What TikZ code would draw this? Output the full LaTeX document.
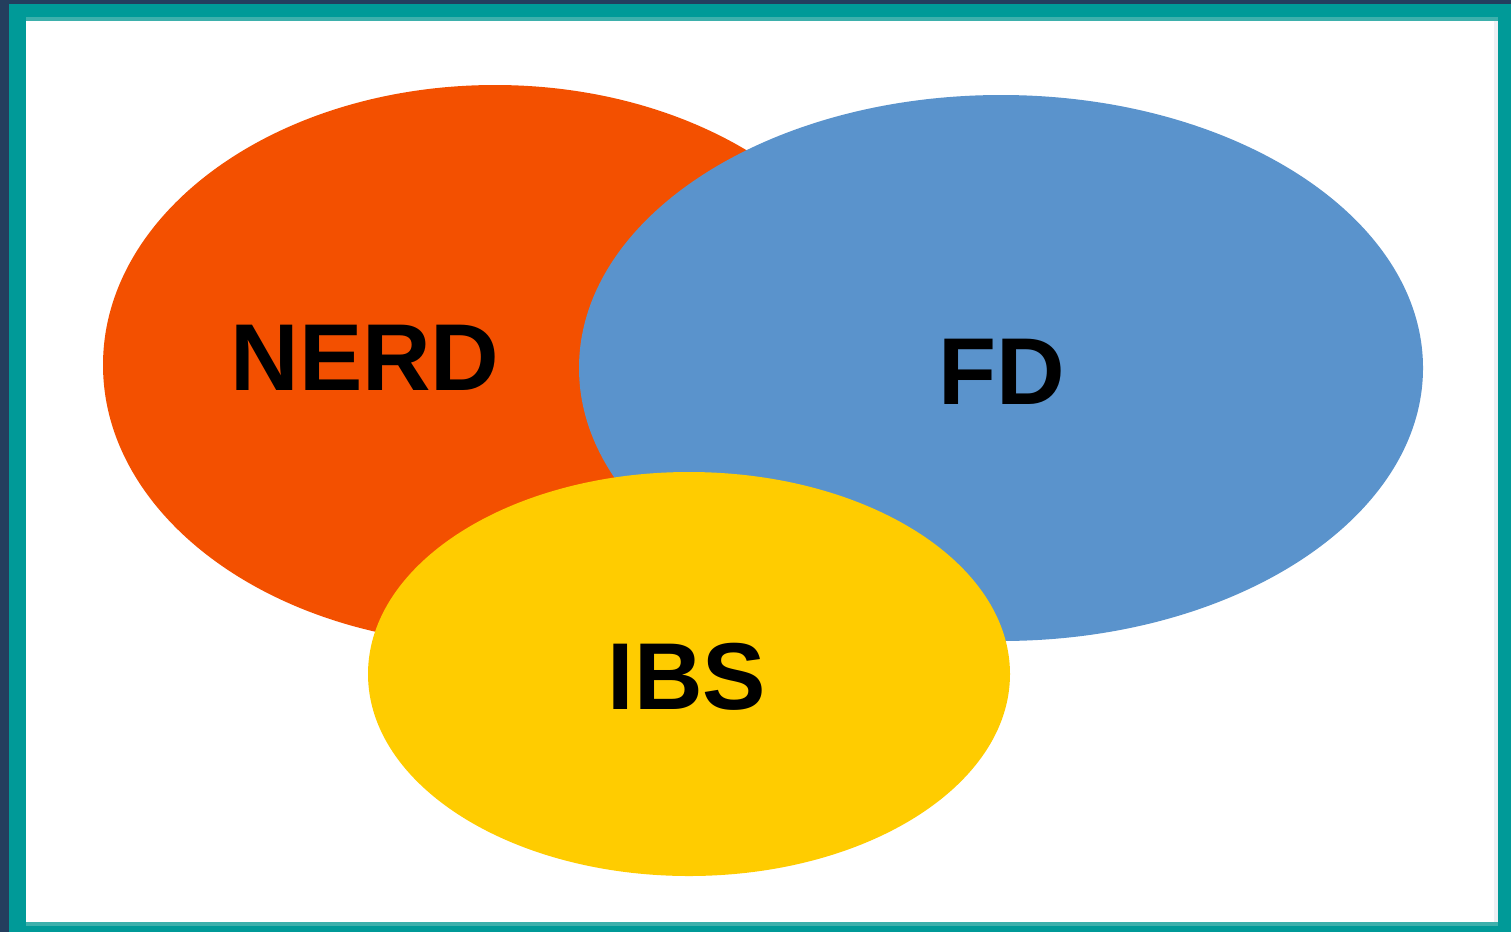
\documentclass[tikz,border=0pt]{standalone}
\usepackage{fontspec}
\setmainfont{Liberation Sans}
\definecolor{navy}{HTML}{243E5E}
\definecolor{tealf}{HTML}{009A98}
\definecolor{tealL}{HTML}{3DB0AC}
\definecolor{edgegray}{HTML}{EEF0F4}
\definecolor{nerdc}{HTML}{F35000}
\definecolor{fdc}{HTML}{5A93CC}
\definecolor{ibsc}{HTML}{FFCC00}
\tikzset{
  lbl/.style={inner sep=0pt, font=\fontsize{95}{95}\selectfont\bfseries, text=black},
}
\begin{document}
\begin{tikzpicture}[x=1pt,y=-1pt]
\useasboundingbox (0,0) rectangle (1511,932);
% frame
\fill[navy] (0,0) rectangle (1511,932);
\fill[tealf] (9,4) rectangle (1511,932);
\fill[tealL] (26,17) rectangle (1498,926);
\fill[white] (26,21) rectangle (1498,921.5);
\fill[edgegray] (1494,21) rectangle (1498,921.5);
% ellipses
\fill[nerdc] (495,365) ellipse [x radius=392, y radius=280];
\fill[fdc] (1001,368) ellipse [x radius=422, y radius=273];
\fill[ibsc] (689,674) ellipse [x radius=321, y radius=202];
% labels
\node[lbl] (nerd) at (365,358) {NERD};
\node[lbl] (fd) at (1002,372) {FD};
\node[lbl] (ibs) at (687,677) {IBS};
\end{tikzpicture}
\end{document}
